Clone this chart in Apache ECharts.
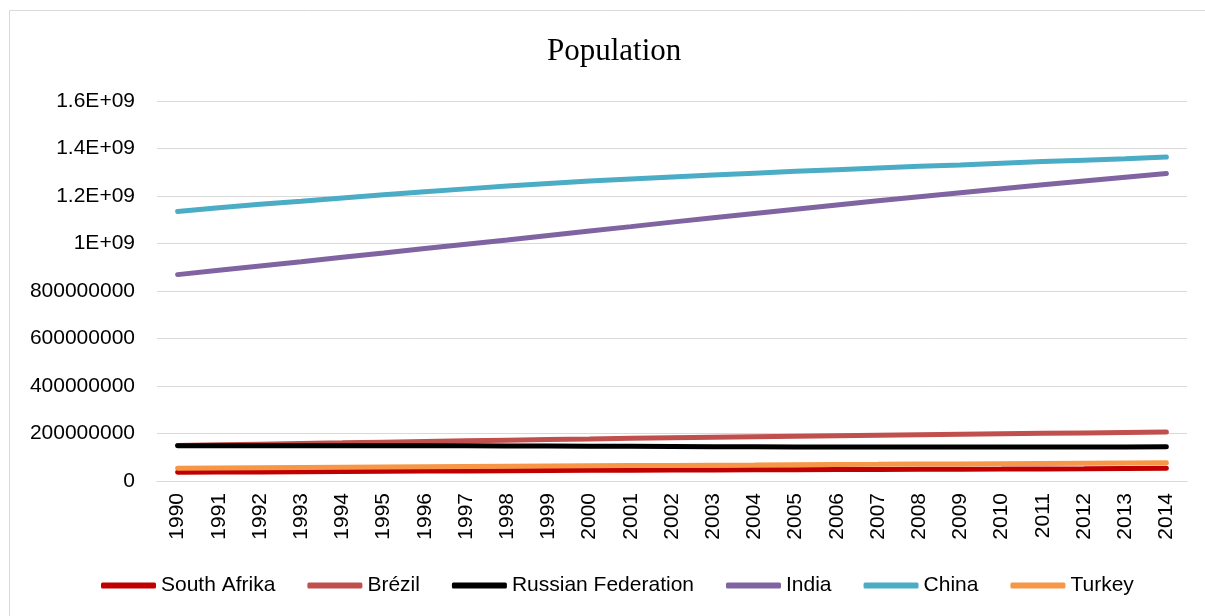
<!DOCTYPE html>
<html><head><meta charset="utf-8">
<script src="https://cdn.jsdelivr.net/npm/echarts@6/dist/echarts.min.js"></script>
<style>html,body{margin:0;padding:0;background:#fff}#c{width:1205px;height:616px}</style>
</head><body><div id="c"></div>
<script>
const years = ['1990','1991','1992','1993','1994','1995','1996','1997','1998','1999','2000','2001','2002','2003','2004','2005','2006','2007','2008','2009','2010','2011','2012','2013','2014'];
const southAfrika = [36.8e6,37.6e6,38.4e6,39.2e6,40.0e6,40.8e6,41.6e6,42.5e6,43.3e6,44.0e6,44.9e6,45.6e6,46.1e6,46.6e6,47.1e6,47.6e6,48.1e6,48.6e6,49.1e6,49.6e6,50.1e6,50.9e6,51.7e6,52.6e6,53.5e6];
const brezil = [149.4e6,152.2e6,155.0e6,157.8e6,160.6e6,163.5e6,166.3e6,169.2e6,172.0e6,174.7e6,177.0e6,179.5e6,181.9e6,184.1e6,186.3e6,188.5e6,190.6e6,192.7e6,194.8e6,196.8e6,198.7e6,200.6e6,202.4e6,204.3e6,206.1e6];
const russia = [147.97e6,148.39e6,148.54e6,148.46e6,148.41e6,148.38e6,148.16e6,147.92e6,147.67e6,147.21e6,146.60e6,145.98e6,145.31e6,144.65e6,144.07e6,143.52e6,143.05e6,142.81e6,142.74e6,142.79e6,142.85e6,142.96e6,143.20e6,143.51e6,143.82e6];
const india = [869e6,887e6,905e6,923e6,942e6,960e6,979e6,997e6,1015e6,1034e6,1053e6,1071e6,1090e6,1108e6,1126e6,1144e6,1162e6,1180e6,1197e6,1214e6,1231e6,1247e6,1263e6,1279e6,1295e6];
const china = [1135e6,1151e6,1165e6,1178e6,1192e6,1205e6,1218e6,1230e6,1242e6,1253e6,1263e6,1272e6,1280e6,1288e6,1296e6,1304e6,1311e6,1318e6,1325e6,1331e6,1338e6,1345e6,1351e6,1357e6,1364e6];
const turkey = [53.9e6,55.0e6,56.0e6,57.0e6,58.0e6,59.0e6,60.0e6,61.0e6,62.0e6,63.0e6,63.9e6,64.8e6,65.7e6,66.6e6,67.4e6,68.4e6,69.4e6,70.2e6,71.1e6,72.0e6,72.9e6,73.8e6,74.8e6,75.8e6,76.9e6];
const seriesNames = ['South Afrika','Brézil','Russian Federation','India','China','Turkey'];
const seriesData = [southAfrika, brezil, russia, india, china, turkey];
const colors = ['#C00000','#C0504D','#000000','#8064A2','#4BACC6','#F79646'];

const font = 'Liberation Sans, Arial, sans-serif';
const chart = echarts.init(document.getElementById('c'), null, {renderer:'canvas'});
chart.setOption({
  animation:false,
  backgroundColor:'#fff',
  color: colors,
  graphic:[{type:'rect', shape:{x:9.5,y:10.5,width:1200,height:620}, style:{fill:'none', stroke:'#d9d9d9', lineWidth:1}, z:-1}],
  title:{text:'Population', left:542, top:31, textStyle:{fontFamily:'Liberation Serif, Times New Roman, serif', fontSize:31, fontWeight:'normal', color:'#000'}},
  grid:{left:157, right:18, top:101, bottom:135, containLabel:false},
  legend:{bottom:20, left:101, padding:0, itemWidth:55, itemHeight:6, itemGap:32, icon:'roundRect',
    textStyle:{fontFamily:font, fontSize:21, color:'#000'}, data:seriesNames},
  xAxis:{type:'category', data:years, boundaryGap:true,
    axisLine:{lineStyle:{color:'#d9d9d9', width:1}}, axisTick:{show:false},
    axisLabel:{rotate:90, fontFamily:font, fontSize:21, color:'#000', margin:12}},
  yAxis:{type:'value', min:0, max:1.6e9, interval:2e8,
    axisLine:{show:false}, axisTick:{show:false},
    splitLine:{lineStyle:{color:'#d9d9d9', width:1}},
    axisLabel:{fontFamily:font, fontSize:21, color:'#000', margin:22,
      formatter:v=>{ if(v>=1e9){ const m=v/1e9; return (Math.round(m*10)/10)+'E+09'; } return String(v); }}},
  series: seriesNames.map((n,i)=>({name:n, type:'line', data:seriesData[i], symbol:'none', smooth:false,
    lineStyle:{width:5, color:colors[i], cap:'round'}, itemStyle:{color:colors[i]}}))
});
</script></body></html>
